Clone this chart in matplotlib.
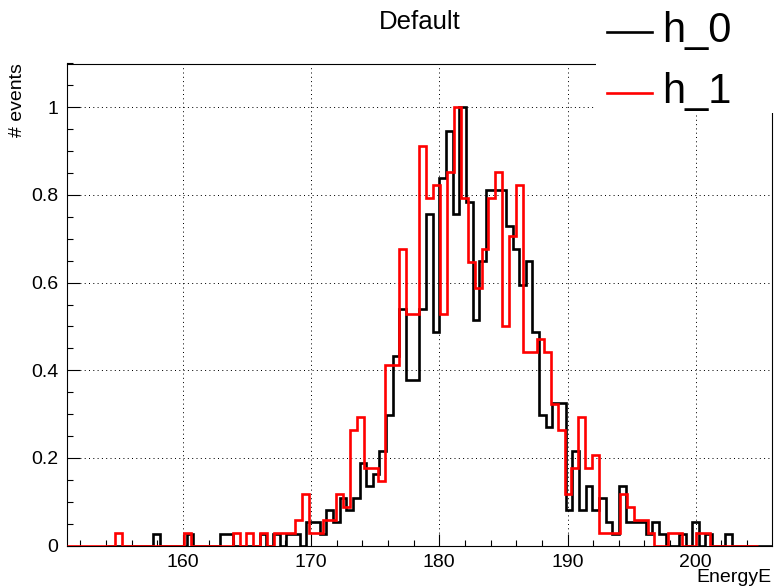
import numpy as np
import matplotlib
matplotlib.use("Agg")
import matplotlib.pyplot as plt
from matplotlib.patches import Rectangle
from matplotlib.lines import Line2D
from matplotlib.ticker import MultipleLocator

plt.rcParams['font.family'] = ['Liberation Sans', 'DejaVu Sans']

# Histogram h_0: 100 bins, counts per bin
h0_range = (154.06, 205.95)
h0_counts = [
    0, 0, 0, 0, 0, 0, 0, 1, 0, 0,
    0, 0, 1, 0, 0, 0, 0, 1, 1, 0,
    0, 0, 0, 1, 0, 1, 0, 1, 1, 0,
    2, 2, 1, 3, 2, 4, 3, 4, 7, 5,
    6, 8, 11, 16, 20, 14, 14, 20, 28, 18,
    31, 35, 28, 37, 29, 19, 24, 30, 30, 30,
    27, 25, 22, 24, 18, 11, 10, 12, 12, 3,
    8, 3, 5, 3, 4, 2, 1, 5, 2, 2,
    2, 1, 2, 1, 0, 0, 1, 0, 2, 0,
    1, 0, 0, 1, 0, 0, 0, 0, 0, 0,
]

# Histogram h_1: 100 bins, counts per bin
h1_range = (150.94, 204.87)
h1_counts = [
    0, 0, 0, 0, 0, 0, 0, 1, 0, 0,
    0, 0, 0, 0, 0, 0, 0, 1, 0, 0,
    0, 0, 0, 0, 1, 0, 1, 0, 1, 0,
    1, 1, 1, 2, 4, 1, 1, 2, 2, 4,
    3, 9, 10, 6, 6, 5, 14, 14, 23, 18,
    18, 31, 27, 28, 18, 29, 34, 27, 22, 20,
    23, 27, 29, 17, 24, 28, 15, 15, 16, 15,
    11, 9, 4, 6, 10, 6, 7, 1, 1, 1,
    4, 3, 2, 2, 1, 0, 0, 1, 1, 0,
    0, 1, 1, 0, 0, 0, 0, 0, 0, 0,
]

series_names = ["h_0", "h_1"]
series_colors = ["#000000", "#ff0000"]
title_text = "Default"
x_label = "EnergyE"
y_label = "# events"
x_ticks = [160, 170, 180, 190, 200]
y_ticks = [0, 0.2, 0.4, 0.6, 0.8, 1.0]
y_tick_labels = ["0", "0.2", "0.4", "0.6", "0.8", "1"]

W, H = 774, 587
fig = plt.figure(figsize=(W / 100, H / 100), dpi=100)


def fx(px):
    return px / W


def fy(py):
    return 1 - py / H


frame_l, frame_r, frame_t, frame_b = 66.7, 772.0, 63.5, 545.5
ax = fig.add_axes([fx(frame_l), fy(frame_b), (frame_r - frame_l) / W,
                   (frame_b - frame_t) / H])

hists = [(h0_range, h0_counts), (h1_range, h1_counts)]
for (rng, counts), color in zip(hists, series_colors):
    counts = np.asarray(counts, dtype=float)
    edges = np.linspace(rng[0], rng[1], len(counts) + 1)
    ax.stairs(counts / counts.max(), edges, color=color, linewidth=1.9,
              baseline=0, zorder=3)

ax.set_xlim(h1_range[0], h0_range[1])
ax.set_ylim(0, 1.1)

ax.set_xticks(x_ticks)
ax.set_xticklabels([str(t) for t in x_ticks])
ax.set_yticks(y_ticks)
ax.set_yticklabels(y_tick_labels)
ax.xaxis.set_minor_locator(MultipleLocator(2))
ax.yaxis.set_minor_locator(MultipleLocator(0.05))

ax.tick_params(axis='both', which='both', direction='in', width=0.8,
               labelsize=14, top=False, right=False)
ax.tick_params(axis='x', which='major', length=9, pad=6)
ax.tick_params(axis='x', which='minor', length=4.5)
ax.tick_params(axis='y', which='major', length=9, pad=6)
ax.tick_params(axis='y', which='minor', length=4.5)

ax.grid(True, which='major', color='black', linewidth=0.72,
        linestyle=(0, (1, 3.3)), zorder=1)
ax.set_axisbelow(True)
for sp in ax.spines.values():
    sp.set_linewidth(0.8)

# Title, axis titles
fig.text(fx(420), fy(22), title_text, ha='center', va='center', fontsize=18.5)
fig.text(fx(18), fy(frame_t), y_label, rotation=90, ha='center', va='top',
         fontsize=14)
fig.text(fx(frame_r), fy(578), x_label, ha='right', va='center', fontsize=14)

# Legend block in the top-right corner
fig.add_artist(Rectangle((fx(596), fy(113)), 1 - fx(596), fy(0) - fy(113),
                         transform=fig.transFigure, facecolor='white',
                         edgecolor='none', zorder=5))
for i, (name, color) in enumerate(zip(series_names, series_colors)):
    yc = 31 + 61 * i
    fig.add_artist(Line2D([fx(607), fx(652)], [fy(yc + 1), fy(yc + 1)],
                          transform=fig.transFigure, color=color,
                          linewidth=1.9, zorder=6))
    fig.text(fx(662), fy(yc), name, ha='left', va='center', fontsize=30,
             zorder=7)

fig.savefig("out.png", dpi=100)
